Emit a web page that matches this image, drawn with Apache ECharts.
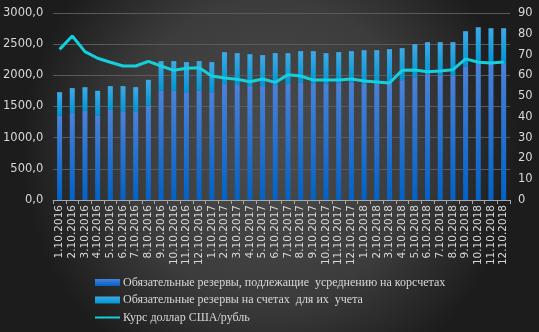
<!DOCTYPE html>
<html>
<head>
<meta charset="utf-8">
<script src="https://cdn.jsdelivr.net/npm/echarts@6/dist/echarts.min.js"></script>
<style>
  html, body { margin: 0; padding: 0; }
  #chart { width: 539px; height: 332px; }
</style>
</head>
<body>
<div id="chart"></div>
<script>
// категории (как на подписях оси)
const categories = [
  '1.10.2016', '2.10.2016', '3.10.2016', '4.10.2016', '5.10.2016', '6.10.2016',
  '7.10.2016', '8.10.2016', '9.10.2016', '10.10.2016', '11.10.2016', '12.10.2016',
  '1.10.2017', '2.10.2017', '3.10.2017', '4.10.2017', '5.10.2017', '6.10.2017',
  '7.10.2017', '8.10.2017', '9.10.2017', '10.10.2017', '11.10.2017', '12.10.2017',
  '1.10.2018', '2.10.2018', '3.10.2018', '4.10.2018', '5.10.2018', '6.10.2018',
  '7.10.2018', '8.10.2018', '9.10.2018', '10.10.2018', '11.10.2018', '12.10.2018'
];

// резервы на корсчетах (нижняя часть столбца)
const reservesCorr = [
  1350, 1395, 1430, 1360, 1445, 1425, 1425, 1510, 1750, 1750, 1730, 1750,
  1730, 1860, 1845, 1828, 1828, 1845, 1860, 1890, 1875, 1860, 1875, 1890,
  1860, 1860, 1860, 1922, 1970, 2020, 2003, 2003, 2147, 2180, 2196, 2196
];

// резервы на счетах для их учета (верхняя часть)
const reservesAcc = [
  380, 400, 380, 392, 382, 402, 386, 418, 478, 478, 482, 478,
  482, 512, 511, 512, 496, 511, 496, 498, 513, 496, 497, 498,
  544, 544, 560, 514, 530, 512, 529, 529, 561, 592, 560, 560
];

// курс доллар США/рубль
const usdRub = [
  72.5, 78.9, 71.4, 68.2, 66.3, 64.5, 64.5, 66.7, 64.5, 62.4, 63.4, 63.7,
  59.7, 58.7, 58.1, 56.9, 58.2, 56.6, 60.3, 59.7, 57.7, 57.7, 57.7, 58.2,
  57.3, 56.8, 56.3, 62.4, 62.6, 61.7, 62.1, 62.7, 67.9, 66.3, 65.9, 66.4
];

const chart = echarts.init(document.getElementById('chart'));

const labelColor = '#d8d8d8';
const gridColor = '#5a5a5a';

const option = {
  backgroundColor: new echarts.graphic.RadialGradient(0.5, 0.45, 0.75, [
    { offset: 0, color: '#4c4c4c' },
    { offset: 0.6, color: '#3c3c3c' },
    { offset: 1, color: '#1c1c1c' }
  ]),
  animation: false,
  grid: { left: 50, right: 29, top: 13, bottom: 132 },
  legend: {
    orient: 'vertical',
    left: 94,
    top: 275,
    padding: 0,
    itemGap: 2.5,
    itemWidth: 25,
    itemHeight: 7,
    textStyle: { color: labelColor, fontFamily: 'Liberation Serif', fontSize: 12, lineHeight: 15, padding: [0, 0, 0, -2] },
    data: [
      { name: 'Обязательные резервы, подлежащие  усреднению на корсчетах', icon: 'rect' },
      { name: 'Обязательные резервы на счетах  для их  учета', icon: 'rect' },
      { name: 'Курс доллар США/рубль', icon: 'inherit', itemStyle: { opacity: 0 } }
    ]
  },
  xAxis: {
    type: 'category',
    data: categories,
    axisLine: { lineStyle: { color: '#a8a8a8', width: 1 } },
    axisTick: { show: true, length: 4, lineStyle: { color: '#a8a8a8' } },
    axisLabel: {
      rotate: 90,
      interval: 0,
      color: labelColor,
      fontSize: 10.5,
      fontFamily: 'DejaVu Sans',
      margin: 5
    }
  },
  yAxis: [
    {
      type: 'value',
      min: 0,
      max: 3000,
      interval: 500,
      axisLine: { show: false },
      axisTick: { show: false },
      splitLine: { lineStyle: { color: gridColor, width: 1 } },
      axisLabel: {
        color: labelColor,
        fontSize: 11.5,
        fontFamily: 'DejaVu Sans',
        margin: 10,
        formatter: v => v.toFixed(1).replace('.', ',')
      }
    },
    {
      type: 'value',
      min: 0,
      max: 90,
      interval: 10,
      position: 'right',
      axisLine: { show: false },
      axisTick: { show: false },
      splitLine: { show: false },
      axisLabel: { color: labelColor, fontSize: 11.5, fontFamily: 'DejaVu Sans', margin: 8 }
    }
  ],
  series: [
    {
      name: 'Обязательные резервы, подлежащие  усреднению на корсчетах',
      type: 'bar',
      stack: 'res',
      barWidth: 5,
      data: reservesCorr,
      itemStyle: {
        color: new echarts.graphic.LinearGradient(0, 0, 0, 1, [
          { offset: 0, color: '#4a82d8' },
          { offset: 1, color: '#0062c8' }
        ])
      }
    },
    {
      name: 'Обязательные резервы на счетах  для их  учета',
      type: 'bar',
      stack: 'res',
      barWidth: 5,
      data: reservesAcc,
      itemStyle: {
        color: new echarts.graphic.LinearGradient(0, 0, 0, 1, [
          { offset: 0, color: '#3eaae6' },
          { offset: 1, color: '#0094d4' }
        ])
      }
    },
    {
      name: 'Курс доллар США/рубль',
      type: 'line',
      yAxisIndex: 1,
      data: usdRub,
      symbol: 'none',
      lineStyle: { color: '#16cfdc', width: 3 },
      itemStyle: { color: '#16cfdc' },
      z: 5
    }
  ]
};

chart.setOption(option);
</script>
</body>
</html>
